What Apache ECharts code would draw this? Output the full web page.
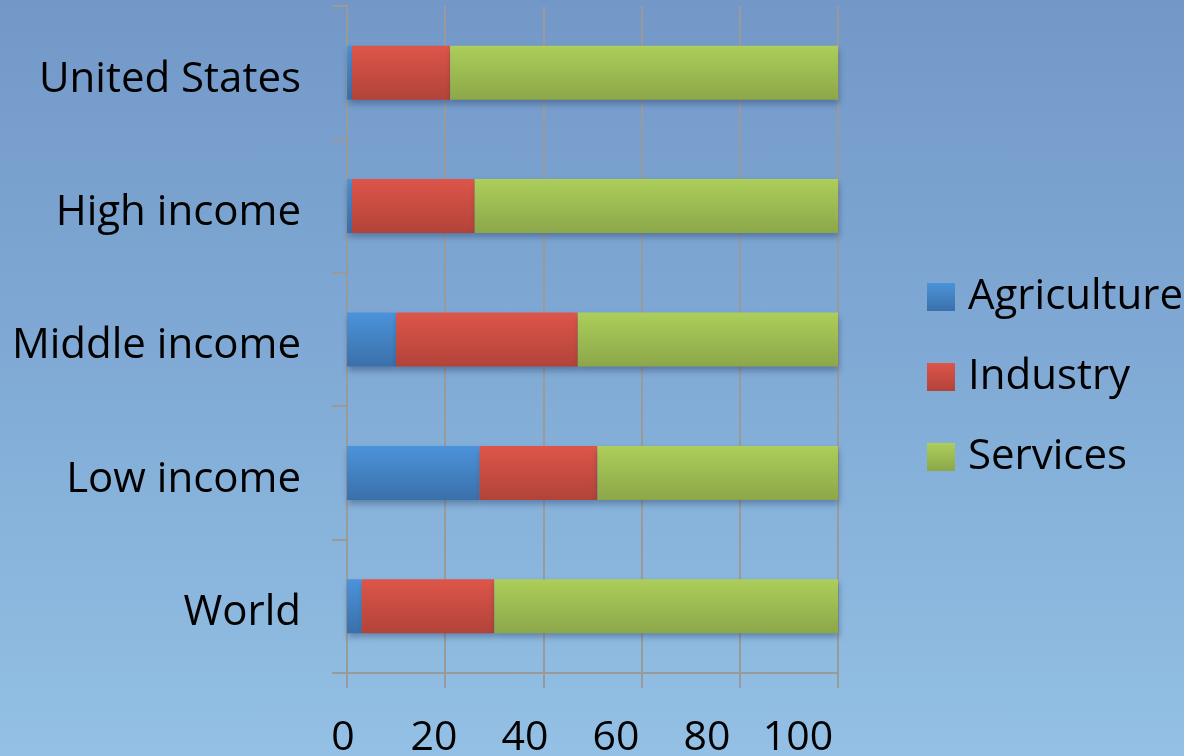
<!DOCTYPE html>
<html>
<head>
<meta charset="utf-8">
<script src="https://cdn.jsdelivr.net/npm/echarts@6/dist/echarts.min.js"></script>
<style>
html,body{margin:0;padding:0;}
#c{width:1184px;height:756px;background:linear-gradient(to bottom,#7398c8 0%,#7fa9d4 45%,#93c0e4 100%);}
</style>
</head>
<body>
<div id="c"></div>
<script>
const categories = ['World', 'Low income', 'Middle income', 'High income', 'United States'];
const agriculture = [3, 27, 10, 1, 1];
const industry = [27, 24, 37, 25, 20];
const services = [70, 49, 53, 74, 79];
const xTicks = [0, 20, 40, 60, 80, 100];

const chart = echarts.init(document.getElementById('c'), null, {renderer: 'canvas'});
function grad(top, bottom) {
  return new echarts.graphic.LinearGradient(0, 0, 0, 1, [
    {offset: 0, color: top}, {offset: 1, color: bottom}
  ]);
}
const font = '"Open Sans", "DejaVu Sans", sans-serif';
const shadow = {shadowColor: 'rgba(20,40,80,0.35)', shadowBlur: 6, shadowOffsetY: 4, shadowOffsetX: 1};
function series(name, data, top, bottom) {
  return {
    name: name, type: 'bar', stack: 'total', data: data, barWidth: 54,
    xAxisIndex: 0, yAxisIndex: 0,
    itemStyle: Object.assign({color: grad(top, bottom)}, shadow),
    emphasis: {disabled: true}
  };
}
const gray = '#9a9a9a';
chart.setOption({
  backgroundColor: 'transparent',
  animation: false,
  grid: [
    {left: 347, top: 6, width: 491, height: 667, containLabel: false, outerBoundsMode: 'none'},
    {left: 343, top: 6, width: 455, height: 667, containLabel: false, outerBoundsMode: 'none'}
  ],
  legend: {
    orient: 'vertical', left: 927, top: 276, padding: 0,
    itemWidth: 28, itemHeight: 28, itemGap: 38,
    icon: 'rect',
    data: ['Agriculture', 'Industry', 'Services'],
    textStyle: {fontFamily: font, fontSize: 42, color: '#000', padding: [0, 0, 0, 8], lineHeight: 42}
  },
  xAxis: [
    {
      type: 'value', gridIndex: 0, min: 0, max: 100, interval: 20,
      axisLine: {show: true, lineStyle: {color: gray, width: 2}},
      axisTick: {show: true, length: 15, lineStyle: {color: gray, width: 2}},
      splitLine: {show: true, lineStyle: {color: gray, width: 2}},
      axisLabel: {show: false}
    },
    {
      type: 'value', gridIndex: 1, min: 0, max: 100, interval: 20,
      axisLine: {show: false}, axisTick: {show: false}, splitLine: {show: false},
      axisLabel: {
        fontFamily: font, fontSize: 41, color: '#000', margin: 45,
        formatter: function (v) { return xTicks.indexOf(v) >= 0 ? String(v) : ''; }
      }
    }
  ],
  yAxis: [
    {
      type: 'category', gridIndex: 0, data: categories, boundaryGap: true,
      axisLine: {show: true, lineStyle: {color: gray, width: 2}},
      axisTick: {show: true, length: 15, lineStyle: {color: gray, width: 2}},
      axisLabel: {
        color: '#000', margin: 46,
        formatter: function (v) { return '{s| }\n{a|' + v + '}'; },
        rich: {
          s: {fontSize: 1, lineHeight: 14},
          a: {fontFamily: font, fontSize: 42, color: '#000', lineHeight: 42}
        }
      }
    },
    {
      type: 'category', gridIndex: 1, data: categories, show: false
    }
  ],
  series: [
    series('Agriculture', agriculture, '#4b93da', '#3a70aa'),
    series('Industry', industry, '#dd554a', '#b24339'),
    series('Services', services, '#acce5a', '#8ca749')
  ]
});
</script>
</body>
</html>
